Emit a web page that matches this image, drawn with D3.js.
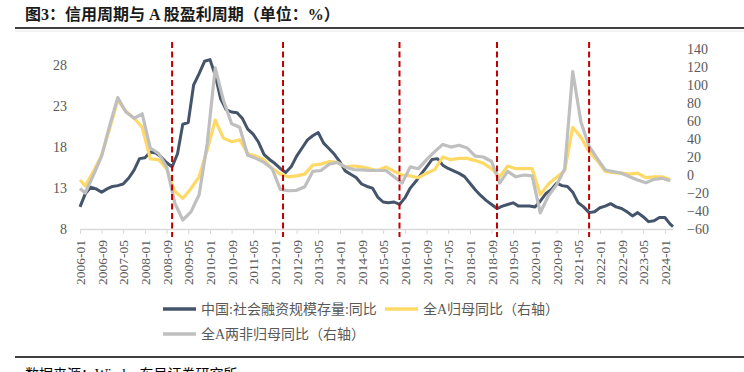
<!DOCTYPE html>
<html>
<head>
<meta charset="utf-8">
<script src="https://cdn.jsdelivr.net/npm/d3@7"></script>
<style>
  body { margin: 0; background: #fff; }
  svg { display: block; }
</style>
</head>
<body>
<div id="chart"></div>
<script>
// credit cycle vs A-share earnings cycle

// social financing stock yoy (%), every 2 months from 2006-01, plus 2024-04
var creditValues = [
  10.7, 12.3, 13.1, 12.9, 12.5, 12.9, 13.2, 13.3, 13.5, 14.2,
  15.2, 16.6, 16.7, 17.4, 17.3, 16.8, 16.1, 15.6, 17.2, 20.8,
  21.0, 25.6, 27.0, 28.5, 28.7, 26.8, 23.9, 22.6, 22.3, 22.2,
  21.5, 20.2, 19.6, 18.6, 17.1, 16.5, 16.0, 15.4, 14.9, 15.6,
  16.9, 17.9, 18.9, 19.4, 19.8, 18.5, 17.8, 17.1, 16.2, 15.1,
  14.7, 14.3, 13.5, 13.2, 13.0, 11.9, 11.3, 11.2, 11.3, 11.0,
  11.8, 13.0, 13.8, 14.7, 15.6, 16.5, 16.6, 15.8, 15.4, 15.1,
  14.8, 14.4, 13.6, 12.8, 12.1, 11.5, 11.0, 10.5, 10.8, 11.0,
  11.2, 10.8, 10.8, 10.8, 10.7, 11.4, 12.3, 12.8, 13.6, 13.3,
  13.2, 12.5, 11.2, 10.7, 10.0, 10.1, 10.6, 10.8, 11.1, 10.7,
  10.5, 10.1, 9.6, 10.0, 9.5, 8.9, 9.0, 9.4, 9.4, 8.6,
  8.3
];

// quarterly earnings yoy (%), 2006-01 then every quarter end 2006-03 .. 2024-03
var allAValues = [
  -5.6, -12, 4, 22, 52, 83, 71, 63, 53, 18, 17, 7, -18, -26, -15, -2,
  28, 61, 41, 37, 39, 24, 21, 17, 7, 1, -2, -1, 1, 11, 12, 15, 14, 9,
  10, 9, 7, 5, 9, 4, 0, -1, -3, 2, 6, 20, 17, 18.5, 18.5, 16, 13, 7,
  -2, 10, 7, 7, 7, -22, -10, -2.5, 5, 53, 42, 26, 16, 4, 2.6, 2, 1, 2,
  -3, -2, -2, -5
];
var exFinValues = [
  -15, -20, 0, 21, 55, 86, 70, 63, 68, 30, 24, 9, -31, -50, -41, -22,
  35, 119, 83, 57, 53, 22, 18.5, 14, 7, -16, -17.5, -17, -13, 4, 5, 12, 14, 9,
  6, 5.6, 5, 5, 5, -2, -9, 9, 7, 17, 26, 34, 31, 33, 30, 21, 20, 15,
  -9, 4, -2, 0, -1, -42, -23, -11, 7, 115, 59, 32, 18.5, 5.6, 3.7, 2, -2, -5.6,
  -8.6, -4.8, -3.7, -6.3
];

// turning points of the credit cycle
var cycleMarks = ["2008-11", "2012-04", "2015-11", "2018-11", "2021-09"];

var leftTicks = [8, 13, 18, 23, 28];
var rightTicks = [-60, -40, -20, 0, 20, 40, 60, 80, 100, 120, 140];

var seriesNames = ["中国:社会融资规模存量:同比", "全A归母同比（右轴）", "全A两非归母同比（右轴）"];
var seriesColors = ["#44546a", "#ffd966", "#bfbfbf"];

var parseMonth = d3.timeParse("%Y-%m");
var start = parseMonth("2006-01");
var end = parseMonth("2024-04");

// dates for each series
var creditDates = d3.range(0, 219, 2).map(function(m) { return d3.timeMonth.offset(start, m); });
creditDates.push(end);
var quarterDates = [start].concat(d3.range(2, 219, 3).map(function(m) { return d3.timeMonth.offset(start, m); }));

var credit = creditValues.map(function(v, i) { return { date: creditDates[i], v: v }; });
var allA = allAValues.map(function(v, i) { return { date: quarterDates[i], v: v }; });
var exFin = exFinValues.map(function(v, i) { return { date: quarterDates[i], v: v }; });

var width = 744, height = 372;
var plot = { left: 80, right: 673, top: 49, bottom: 229 };

var svg = d3.select("#chart").append("svg")
  .attr("width", width)
  .attr("height", height)
  .style("font-family", "'Liberation Serif', 'Noto Sans CJK SC', serif");

var x = d3.scaleTime().domain([start, end]).range([plot.left, plot.right]);
var yL = d3.scaleLinear().domain([8, 30]).range([plot.bottom, plot.top]);
var yR = d3.scaleLinear().domain([-60, 140]).range([plot.bottom, plot.top]);

// title and rules
svg.append("text")
  .attr("x", 25)
  .attr("y", 20)
  .attr("font-size", 16)
  .attr("font-weight", "bold")
  .attr("fill", "#1a1a1a")
  .text("图3：信用周期与 A 股盈利周期（单位：%）");

svg.append("line")
  .attr("x1", 15).attr("x2", 744).attr("y1", 28).attr("y2", 28)
  .attr("stroke", "#000").attr("stroke-width", 1.5);
svg.append("line")
  .attr("x1", 15).attr("x2", 744).attr("y1", 31).attr("y2", 31)
  .attr("stroke", "#e6e6e6").attr("stroke-width", 1);

svg.append("line")
  .attr("x1", 15).attr("x2", 744).attr("y1", 357).attr("y2", 357)
  .attr("stroke", "#000").attr("stroke-width", 1.5);
svg.append("text")
  .attr("x", 25)
  .attr("y", 379)
  .attr("font-size", 14)
  .attr("fill", "#000")
  .text("数据来源：Wind，东吴证券研究所");

// x axis
var xTicks = d3.range(0, 217, 8).map(function(m) { return d3.timeMonth.offset(start, m); });
var xAxis = svg.append("g")
  .attr("transform", "translate(0," + plot.bottom + ")")
  .call(d3.axisBottom(x).tickValues(xTicks).tickFormat(d3.timeFormat("%Y-%m")).tickSize(5).tickSizeOuter(0));
xAxis.select(".domain").attr("stroke", "#d9d9d9").attr("stroke-width", 1.5);
xAxis.selectAll(".tick line").attr("stroke", "#d9d9d9");
xAxis.selectAll(".tick text")
  .attr("transform", "rotate(-90)")
  .attr("x", -11)
  .attr("y", 0)
  .attr("dy", "0.35em")
  .attr("text-anchor", "end")
  .attr("font-size", 13.5)
  .attr("font-family", "'Liberation Serif', serif")
  .attr("fill", "#595959");

// y axes
var leftAxis = svg.append("g")
  .attr("transform", "translate(" + plot.left + ",0)")
  .call(d3.axisLeft(yL).tickValues(leftTicks).tickSize(0).tickPadding(13));
leftAxis.select(".domain").remove();
leftAxis.selectAll("text")
  .attr("font-size", 14)
  .attr("font-family", "'Liberation Serif', serif")
  .attr("fill", "#595959");

var rightAxis = svg.append("g")
  .attr("transform", "translate(" + plot.right + ",0)")
  .call(d3.axisRight(yR).tickValues(rightTicks).tickSize(0).tickPadding(14));
rightAxis.select(".domain").remove();
rightAxis.selectAll("text")
  .attr("font-size", 14)
  .attr("font-family", "'Liberation Serif', serif")
  .attr("fill", "#595959");

// lines
var lineL = d3.line().x(function(d) { return x(d.date); }).y(function(d) { return yL(d.v); });
var lineR = d3.line().x(function(d) { return x(d.date); }).y(function(d) { return yR(d.v); });

svg.append("path")
  .datum(credit)
  .attr("d", lineL)
  .attr("fill", "none")
  .attr("stroke", seriesColors[0])
  .attr("stroke-width", 3)
  .attr("stroke-linejoin", "round");

svg.append("path")
  .datum(allA)
  .attr("d", lineR)
  .attr("fill", "none")
  .attr("stroke", seriesColors[1])
  .attr("stroke-width", 3.2)
  .attr("stroke-linejoin", "round");

svg.append("path")
  .datum(exFin)
  .attr("d", lineR)
  .attr("fill", "none")
  .attr("stroke", seriesColors[2])
  .attr("stroke-width", 3.2)
  .attr("stroke-linejoin", "round");

// red dashed cycle markers
svg.selectAll(".mark")
  .data(cycleMarks)
  .enter().append("line")
    .attr("class", "mark")
    .attr("x1", function(d) { return x(parseMonth(d)); })
    .attr("x2", function(d) { return x(parseMonth(d)); })
    .attr("y1", 42)
    .attr("y2", 237)
    .attr("stroke", "#c00000")
    .attr("stroke-width", 2)
    .attr("stroke-dasharray", "6,3.5");

// legend
var legendPos = [[163, 309], [385, 309], [163, 334]];
var legend = svg.selectAll(".legend")
  .data(seriesNames)
  .enter().append("g")
    .attr("class", "legend")
    .attr("transform", function(d, i) { return "translate(" + legendPos[i][0] + "," + legendPos[i][1] + ")"; });
legend.append("line")
  .attr("x1", 0).attr("x2", 33)
  .attr("stroke", function(d, i) { return seriesColors[i]; })
  .attr("stroke-width", 3.5);
legend.append("text")
  .attr("x", 38)
  .attr("dy", "0.35em")
  .attr("font-size", 14)
  .attr("fill", "#595959")
  .text(function(d) { return d; });
</script>
</body>
</html>
